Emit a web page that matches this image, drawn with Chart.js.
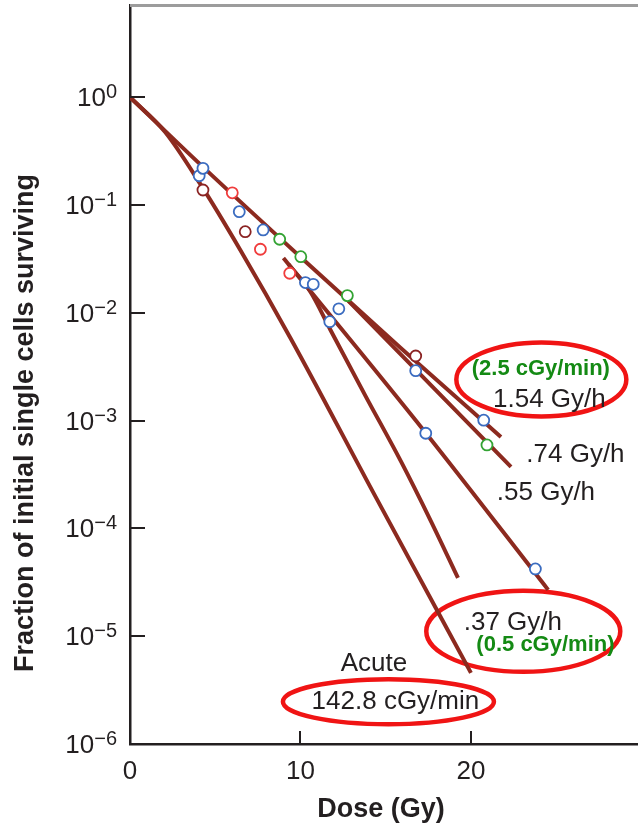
<!DOCTYPE html>
<html>
<head>
<meta charset="utf-8">
<script src="https://cdn.jsdelivr.net/npm/chart.js@4.4.1/dist/chart.umd.min.js"></script>
<style>
  body { margin: 0; background: #fff; }
  canvas { display: block; }
</style>
</head>
<body>
<canvas id="survival-chart" width="638" height="825"></canvas>
<script>
// axis ticks
const xTicks = [0, 10, 20];
const yTicks = [1, 1e-1, 1e-2, 1e-3, 1e-4, 1e-5, 1e-6];

const blueDose = [4.06, 4.28, 6.41, 7.81, 10.29, 10.75, 11.72, 12.25, 16.76, 17.35, 20.75, 23.78];
const blueSurv = [0.187, 0.219, 0.0869, 0.0588, 0.0191, 0.0184, 0.00828, 0.0109, 0.00291, 0.000764, 0.00101, 0.0000421];
const redDose = [6.0, 7.65, 9.37];
const redSurv = [0.130, 0.0389, 0.0233];
const maroonDose = [4.28, 6.76, 16.76];
const maroonSurv = [0.138, 0.0566, 0.00398];
const greenDose = [8.78, 10.02, 12.75, 20.94];
const greenSurv = [0.0482, 0.0332, 0.01445, 0.000595];

// fitted survival curves
const acuteDose = [0, 2.06, 4.12, 6.47, 9.41, 14.41, 20.0];
const acuteSurv = [1, 0.476, 0.157, 0.0383, 0.00585, 0.000196, 0.00000457];
const r154Dose = [0, 4.29, 10.0, 15.88, 21.76];
const r154Surv = [1, 0.225, 0.033, 0.00473, 0.000706];
const r074Dose = [12.65, 22.35];
const r074Surv = [0.0137, 0.000372];
const r055Dose = [9.0, 17.35, 24.53];
const r055Surv = [0.0323, 0.000769, 0.0000269];
const r037Dose = [9.29, 10.59, 11.76, 13.82, 15.88, 17.65, 19.24];
const r037Surv = [0.0284, 0.0156, 0.00693, 0.00169, 0.000423, 0.000117, 0.0000347];

const ink = "#231f20";
const curveColor = "#8c2a1f";
const font = '"Liberation Sans", Arial, sans-serif';

function pairs(xs, ys) {
  return xs.map((x, i) => ({ x: x, y: ys[i] }));
}

function pointSet(xs, ys, color) {
  return {
    data: pairs(xs, ys),
    borderColor: color,
    backgroundColor: "#fff",
    borderWidth: 1.8,
    pointRadius: 5.5,
    showLine: false,
  };
}

function curveSet(xs, ys) {
  return {
    data: pairs(xs, ys),
    borderColor: curveColor,
    borderWidth: 4,
    pointRadius: 0,
    showLine: true,
    cubicInterpolationMode: "monotone",
  };
}

// annotation anchors in data units (x = Gy, y = fraction)
const ellipses = [
  { x: 24.13, y: 2.41e-3, rx: 85, ry: 37 },
  { x: 23.07, y: 1.11e-5, rx: 97, ry: 40.5 },
  { x: 15.16, y: 2.47e-6, rx: 105.5, ry: 22.5 },
];
const labels = [
  { text: "(2.5 cGy/min)", x: 24.1, y: 2.63e-3, bold: true, color: "#148a14", size: 22 },
  { text: "1.54 Gy/h", x: 24.6, y: 1.35e-3 },
  { text: ".74 Gy/h", x: 26.13, y: 4.17e-4 },
  { text: ".55 Gy/h", x: 24.4, y: 1.84e-4 },
  { text: ".37 Gy/h", x: 22.46, y: 1.14e-5 },
  { text: "(0.5 cGy/min)", x: 24.37, y: 7.31e-6, bold: true, color: "#148a14", size: 22 },
  { text: "Acute", x: 14.31, y: 4.77e-6 },
  { text: "142.8 cGy/min", x: 15.57, y: 2.09e-6 },
];

const decor = {
  id: "decor",
  beforeDatasetsDraw(chart) {
    const { ctx, chartArea: a } = chart;
    const xs = chart.scales.x, ys = chart.scales.y;
    ctx.save();
    ctx.strokeStyle = "#9c9c9c";
    ctx.lineWidth = 3;
    ctx.beginPath();
    ctx.moveTo(a.left, a.top + 0.5);
    ctx.lineTo(a.right, a.top + 0.5);
    ctx.stroke();

    ctx.strokeStyle = "#f01414";
    ctx.lineWidth = 4.5;
    ellipses.forEach((e) => {
      ctx.beginPath();
      ctx.ellipse(xs.getPixelForValue(e.x), ys.getPixelForValue(e.y), e.rx, e.ry, 0, 0, 2 * Math.PI);
      ctx.stroke();
    });
    ctx.restore();
  },
  afterDraw(chart) {
    const { ctx, chartArea: a } = chart;
    const xs = chart.scales.x, ys = chart.scales.y;
    ctx.save();

    // inward tick marks
    ctx.strokeStyle = ink;
    ctx.lineWidth = 2;
    ctx.beginPath();
    yTicks.forEach((v) => {
      const py = Math.round(ys.getPixelForValue(v));
      if (py < a.bottom - 2) {
        ctx.moveTo(a.left, py);
        ctx.lineTo(a.left + 15, py);
      }
    });
    xTicks.forEach((v) => {
      if (v === 0) return;
      const px = Math.round(xs.getPixelForValue(v));
      ctx.moveTo(px, a.bottom);
      ctx.lineTo(px, a.bottom - 13);
    });
    ctx.stroke();

    // y tick labels 10^n
    ctx.fillStyle = ink;
    ctx.textBaseline = "alphabetic";
    ctx.textAlign = "left";
    yTicks.forEach((v) => {
      const py = ys.getPixelForValue(v);
      const e = Math.round(Math.log10(v));
      const sup = e === 0 ? "0" : "\u2212" + -e;
      ctx.font = "20px " + font;
      const wSup = ctx.measureText(sup).width;
      ctx.font = "26px " + font;
      const wBase = ctx.measureText("10").width;
      const x0 = a.left - 13 - wSup - wBase;
      ctx.fillText("10", x0, py + 9);
      ctx.font = "20px " + font;
      ctx.fillText(sup, x0 + wBase, py + 1);
    });

    // x tick labels
    ctx.textAlign = "center";
    ctx.font = "26px " + font;
    xTicks.forEach((v) => {
      ctx.fillText(String(v), xs.getPixelForValue(v), a.bottom + 35);
    });

    // axis titles
    ctx.font = "bold 27px " + font;
    ctx.fillText("Dose (Gy)", 381, 817);
    ctx.save();
    ctx.translate(33, 423);
    ctx.rotate(-Math.PI / 2);
    ctx.fillText("Fraction of initial single cells surviving", 0, 0);
    ctx.restore();

    // annotations
    labels.forEach((l) => {
      ctx.font = (l.bold ? "bold " : "") + (l.size || 26) + "px " + font;
      ctx.fillStyle = l.color || ink;
      ctx.fillText(l.text, xs.getPixelForValue(l.x), ys.getPixelForValue(l.y));
    });
    ctx.restore();
  },
};

new Chart(document.getElementById("survival-chart"), {
  type: "scatter",
  data: {
    datasets: [
      pointSet(blueDose, blueSurv, "#3b6cc0"),
      pointSet(redDose, redSurv, "#f03c3c"),
      pointSet(maroonDose, maroonSurv, "#8b2323"),
      pointSet(greenDose, greenSurv, "#33a333"),
      curveSet(acuteDose, acuteSurv),
      curveSet(r154Dose, r154Surv),
      curveSet(r074Dose, r074Surv),
      curveSet(r055Dose, r055Surv),
      curveSet(r037Dose, r037Surv),
    ],
  },
  options: {
    responsive: false,
    animation: false,
    devicePixelRatio: 1,
    layout: { autoPadding: false, padding: { top: 5, left: 0, right: 0, bottom: 0 } },
    plugins: { legend: { display: false }, tooltip: { enabled: false } },
    scales: {
      x: {
        type: "linear",
        min: 0,
        max: 29.8,
        grid: { display: false },
        border: { color: ink, width: 2.5 },
        ticks: { display: false },
        afterBuildTicks(s) { s.ticks = xTicks.map((v) => ({ value: v })); },
        afterFit(s) { s.height = 81; },
      },
      y: {
        type: "logarithmic",
        min: 1e-6,
        max: 7.18,
        grid: { display: false },
        border: { color: ink, width: 2.5 },
        ticks: { display: false },
        afterBuildTicks(s) { s.ticks = yTicks.map((v) => ({ value: v })); },
        afterFit(s) { s.width = 130; },
      },
    },
  },
  plugins: [decor],
});
</script>
</body>
</html>
